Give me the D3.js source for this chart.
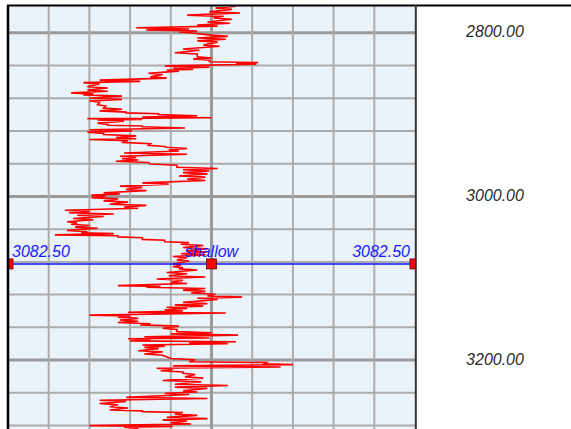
<!DOCTYPE html>
<html>
<head>
<meta charset="utf-8">
<script src="https://cdn.jsdelivr.net/npm/d3@7"></script>
<style>
  html, body { margin: 0; padding: 0; background: #fff; }
  svg { display: block; }
  text { font-family: "Liberation Sans", Arial, sans-serif; font-style: italic; }
</style>
</head>
<body>
<svg id="chart"></svg>
<script>
var w = 571;
var h = 429;

// depth labels on the right
var depthLabels = [2800, 3000, 3200];
// picked depth and its label
var pickDepth = 3082.5;
var pickName = "shallow";

// curve, depth / value (0-100 track)
var curveDepth = [
  2766, 2767.5, 2770, 2771.5, 2774.5, 2776, 2778.5, 2780, 2782, 2783.5, 2787, 2788.5,
  2790.5, 2792, 2794, 2795.5, 2796.5, 2798, 2799, 2800, 2803, 2804.5, 2806.5, 2808,
  2810, 2811.5, 2815, 2816.5, 2820, 2821.5, 2824.5, 2826, 2829.5, 2831, 2832, 2833.5,
  2835.5, 2836.5, 2837.5, 2838.5, 2840.5, 2842, 2843.5, 2845, 2845.5, 2847, 2849.5, 2851,
  2854, 2855.5, 2858, 2859.5, 2861, 2862.5, 2866, 2867.5, 2870, 2871.5, 2873.5, 2875,
  2876, 2877.5, 2880, 2881.5, 2883.5, 2885, 2888, 2889.5, 2892, 2893.5, 2895.5, 2897,
  2898, 2899, 2900, 2901.5, 2903, 2904, 2905, 2906, 2906.5, 2908, 2910.5, 2912,
  2913, 2914, 2915, 2916.5, 2918.5, 2920, 2921.5, 2923, 2924.5, 2926, 2928, 2929.5,
  2930.5, 2932, 2934, 2935.5, 2937.5, 2939, 2940, 2941.5, 2943, 2944.5, 2947, 2948.5,
  2951, 2952.5, 2954, 2955.5, 2957, 2958.5, 2960.5, 2962, 2964.5, 2966, 2967.5, 2969,
  2971, 2972.5, 2975, 2976.5, 2979, 2980.5, 2983.5, 2985, 2987.5, 2989, 2991.5, 2993,
  2995.5, 2997, 2998.5, 2999.5, 3001.5, 3003, 3005.5, 3007, 3009.5, 3011, 3013, 3014.5,
  3017, 3018.5, 3020, 3021.5, 3023, 3024.5, 3027, 3028.5, 3031, 3032.5, 3034, 3035.5,
  3037.5, 3039, 3041.5, 3043, 3044.5, 3045.5, 3047, 3048, 3049.5, 3050.5, 3052.5, 3053.5,
  3055.5, 3056.5, 3058.5, 3060, 3062.5, 3064, 3066.5, 3068, 3070, 3071.5, 3073.5, 3075,
  3077.5, 3079, 3082.5, 3084, 3086, 3087, 3088.5, 3090, 3093, 3094.5, 3097, 3098.5,
  3101, 3102.5, 3105, 3106.5, 3109, 3110, 3111, 3112.5, 3114.5, 3116, 3118, 3119.5,
  3121.5, 3123, 3124.5, 3126, 3129.5, 3131, 3132.5, 3134, 3135.5, 3137, 3138.5, 3140,
  3141.5, 3142.5, 3145, 3146, 3147.5, 3149, 3151, 3152.5, 3154, 3155.5, 3157, 3158.5,
  3161, 3162.5, 3165, 3166.5, 3168, 3169.5, 3171.5, 3173, 3174, 3175, 3176.5, 3177.5,
  3179, 3180, 3181.5, 3183, 3184.5, 3186, 3188.5, 3190, 3192.5, 3194, 3198, 3199.5,
  3202, 3203, 3204.5, 3205.5, 3207, 3208.5, 3210, 3211.5, 3213, 3214.5, 3216, 3217.5,
  3220.5, 3222, 3225, 3226.5, 3229.5, 3231, 3233, 3234.5, 3237.5, 3239, 3240.5, 3242,
  3245.5, 3247, 3249, 3250.5, 3253, 3254.5, 3257, 3258.5, 3261, 3262, 3263, 3264,
  3266, 3267.5, 3270, 3271.5, 3273, 3274.5, 3276.5, 3278, 3280, 3281, 3282, 3283.5,
  3286, 3287.5, 3290, 3291.5
];
var curveValue = [
  52, 56, 51, 55, 49.5, 57, 44, 53, 50.5, 55, 49, 54.5,
  46.5, 51.5, 31.5, 44.5, 34, 46.5, 42, 44.5, 50, 54, 46.5, 53.5,
  46.5, 51.5, 48, 52, 43, 47, 41, 46.5, 46.5, 50, 45.5, 49.5,
  49.5, 61.5, 56, 61, 38.5, 49.5, 40.5, 45.5, 39, 42, 34.5, 38,
  35, 39, 22.5, 32.5, 18.5, 22.5, 19.5, 24.5, 19.5, 24.5, 15.5, 21,
  18.5, 28, 20, 28, 20, 22.5, 22, 24, 23.5, 28, 22.5, 29,
  29, 37, 37, 46.5, 33, 50, 19.5, 33, 22, 28.5, 22, 24.5,
  24.5, 33, 33, 43.5, 20, 30.5, 19.5, 23.5, 23.5, 31.5, 26.5, 31.5,
  20, 29.5, 28, 35, 34.5, 38.5, 39, 44, 39.5, 42, 28.5, 44,
  27.5, 31.5, 28, 32, 26.5, 34.5, 35, 41.5, 41.5, 51.5, 43, 49.5,
  43, 49, 42, 48.5, 44, 48.5, 33, 39.5, 27.5, 33, 29, 34,
  23.5, 27.5, 20.5, 24, 20.5, 27, 23.5, 29.5, 25, 34, 28.5, 32,
  14, 20, 15, 26, 17, 23.5, 16, 21, 14.5, 17, 15.5, 20,
  16.5, 22, 14.5, 19.5, 18, 26, 11.5, 27, 27, 33, 33, 38.5,
  38.5, 44.5, 42.5, 48, 43, 49, 44, 49, 42.5, 48.5, 40.5, 44,
  41.5, 44.5, 40.5, 42.5, 40.5, 43, 42, 46.5, 39, 44, 39.5, 48.5,
  36.5, 43, 40, 44, 27, 37.5, 34, 48.5, 43, 48.5, 45, 51,
  49, 57.5, 46.5, 51.5, 43, 49, 41, 48, 39, 44, 38.5, 43,
  29.5, 53.5, 20, 30, 27, 32, 27.5, 32, 27, 35, 32.5, 42,
  38, 41.5, 41.5, 50, 40, 56.5, 33.5, 49.5, 29.5, 35, 30, 56,
  44.5, 54, 33, 38.5, 33.5, 37, 32, 38, 33.5, 38, 40, 46,
  44.5, 63.5, 63, 70, 40.5, 67, 36.5, 40.5, 37.5, 43, 43, 46,
  43.5, 48, 38, 47.5, 41, 54, 41, 49, 43, 46.5, 38.5, 44.5,
  29, 49, 22.5, 29, 22.5, 27, 25, 29.5, 25, 33, 33, 43,
  41, 46.5, 39, 49, 38, 44, 40, 45, 20, 40.5, 28.5, 32,
  30, 40, 35, 45
];

var svg = d3.select("#chart")
    .attr("width", w)
    .attr("height", h);

var trackTop = 6;
var xScale = d3.scaleLinear().domain([0, 100]).range([8, 415]);
var yScale = d3.scaleLinear().domain([2800, 3200]).range([32.7, 360.1]);

svg.append("rect")
    .attr("x", 0).attr("y", 0)
    .attr("width", w).attr("height", h)
    .attr("fill", "#fff");

// track background
svg.append("rect")
    .attr("x", xScale(0)).attr("y", trackTop)
    .attr("width", xScale(100) - xScale(0)).attr("height", h - trackTop)
    .attr("fill", "#EAF3FA");

var defs = svg.append("defs");
defs.append("clipPath").attr("id", "trackClip")
    .append("rect")
    .attr("x", xScale(0)).attr("y", trackTop)
    .attr("width", xScale(100) - xScale(0)).attr("height", h - trackTop);

var grid = svg.append("g").attr("clip-path", "url(#trackClip)");

// horizontal grid, thick every 200
grid.selectAll(".hgrid")
    .data(d3.range(2760, 3320, 40))
    .enter().append("line")
    .attr("x1", xScale(0)).attr("x2", xScale(100))
    .attr("y1", d => yScale(d)).attr("y2", d => yScale(d))
    .attr("stroke", d => d % 200 == 0 ? "#9a9a9a" : "#ababab")
    .attr("stroke-width", d => d % 200 == 0 ? 3 : 2);

// vertical grid, thick in the middle
grid.selectAll(".vgrid")
    .data(d3.range(10, 100, 10))
    .enter().append("line")
    .attr("x1", d => xScale(d)).attr("x2", d => xScale(d))
    .attr("y1", trackTop).attr("y2", h)
    .attr("stroke", d => d == 50 ? "#9a9a9a" : "#ababab")
    .attr("stroke-width", d => d == 50 ? 3 : 2);

// the curve
var pts = curveDepth.map((d, i) => ({ depth: d, value: curveValue[i] }));
var line = d3.line()
    .x(d => xScale(d.value))
    .y(d => yScale(d.depth));
grid.append("path")
    .datum(pts)
    .attr("d", line)
    .attr("fill", "none")
    .attr("stroke", "#ff0000")
    .attr("stroke-width", 1.6)
    .attr("stroke-linejoin", "miter");

// picked depth marker
var py = yScale(pickDepth);
grid.append("line")
    .attr("x1", xScale(0)).attr("x2", xScale(100))
    .attr("y1", py).attr("y2", py)
    .attr("stroke", "#1010ff")
    .attr("stroke-width", 1.5);
grid.selectAll(".handle")
    .data([0, 50, 100])
    .enter().append("rect")
    .attr("x", d => xScale(d) - 5)
    .attr("y", py - 5)
    .attr("width", 10).attr("height", 10)
    .attr("fill", "#ff0000")
    .attr("stroke", "#600")
    .attr("stroke-width", 0.8);

var fmt = d3.format(".2f");
var labels = svg.append("g")
    .attr("fill", "#1a1aff")
    .attr("font-size", "16px");
labels.append("text")
    .attr("x", xScale(0) + 4).attr("y", py - 7)
    .text(fmt(pickDepth));
labels.append("text")
    .attr("x", xScale(50)).attr("y", py - 7)
    .attr("text-anchor", "middle")
    .text(pickName);
labels.append("text")
    .attr("x", xScale(100) - 5).attr("y", py - 7)
    .attr("text-anchor", "end")
    .text(fmt(pickDepth));

// depth axis on the right
var yAxis = d3.axisRight(yScale)
    .tickValues(depthLabels)
    .tickSize(0)
    .tickPadding(0)
    .tickFormat(fmt);
var ax = svg.append("g")
    .attr("transform", "translate(495,0)")
    .call(yAxis);
ax.select(".domain").remove();
ax.selectAll("text")
    .attr("text-anchor", "middle")
    .attr("dy", "0.25em")
    .attr("x", 0)
    .attr("fill", "#2a2a2a")
    .style("font-size", "16px")
    .style("font-family", "'Liberation Sans', Arial, sans-serif")
    .style("font-style", "italic");

// borders
svg.append("line")
    .attr("x1", 7).attr("x2", w)
    .attr("y1", 5.5).attr("y2", 5.5)
    .attr("stroke", "#000").attr("stroke-width", 2);
svg.append("line")
    .attr("x1", 8).attr("x2", 8)
    .attr("y1", 5).attr("y2", h)
    .attr("stroke", "#000").attr("stroke-width", 2.5);
svg.append("line")
    .attr("x1", 415.8).attr("x2", 415.8)
    .attr("y1", 5).attr("y2", h)
    .attr("stroke", "#333").attr("stroke-width", 2);
</script>
</body>
</html>
